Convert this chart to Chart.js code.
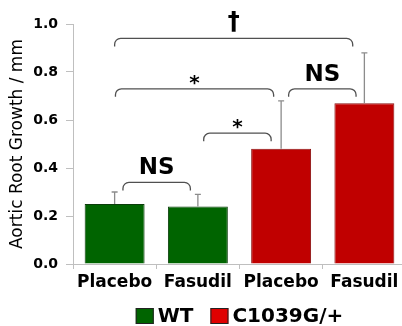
<!DOCTYPE html>
<html lang="en">
<head>
<meta charset="UTF-8">
<title>Aortic Root Growth</title>
<script src="https://cdn.jsdelivr.net/npm/chart.js"></script>
<style>
  html, body { margin: 0; padding: 0; background: #fff; overflow: hidden; }
  #wrap { width: 408px; height: 326px; }
</style>
</head>
<body>
<div id="wrap"><canvas id="growthChart" width="408" height="326"></canvas></div>
<script>
// data
const categories = ['Placebo', 'Fasudil', 'Placebo', 'Fasudil'];
const groups = ['WT', 'WT', 'C1039G/+', 'C1039G/+'];
const growth = [0.25, 0.24, 0.48, 0.67];
const sem = [0.05, 0.05, 0.20, 0.21];
const legendLabels = ['WT', 'C1039G/+'];

// significance brackets: start / end in category units, height in mm
const bracketFrom = [0.1, 1.07, 0.01, 2.09, 0];
const bracketTo = [0.91, 1.88, 1.91, 2.9, 2.86];
const bracketAt = [0.34, 0.545, 0.73, 0.73, 0.94];
const bracketText = ['NS', '*', '*', 'NS', '\u2020'];

const groupFill = { 'WT': '#006400', 'C1039G/+': '#c00000' };
const groupBorder = { 'WT': '#0b3d0b', 'C1039G/+': '#8a1010' };
const legendFill = { 'WT': '#006400', 'C1039G/+': '#e00000' };
const FONT = '"DejaVu Sans", sans-serif';
const axisGray = '#bfbfbf';

const overlay = {
    id: 'overlay',
    afterDatasetsDraw(chart) {
        const { ctx, scales: { x, y } } = chart;
        ctx.save();

        // error bars (upper only)
        ctx.strokeStyle = '#8c8c8c';
        ctx.lineWidth = 1.3;
        growth.forEach((v, i) => {
            const cx = x.getPixelForValue(i);
            const y0 = y.getPixelForValue(v);
            const y1 = y.getPixelForValue(v + sem[i]);
            ctx.beginPath();
            ctx.moveTo(cx, y0);
            ctx.lineTo(cx, y1);
            ctx.moveTo(cx - 3, y1);
            ctx.lineTo(cx + 3, y1);
            ctx.stroke();
        });

        // brackets
        ctx.strokeStyle = '#505050';
        ctx.lineWidth = 1.3;
        ctx.fillStyle = '#000';
        ctx.textAlign = 'center';
        ctx.textBaseline = 'alphabetic';
        bracketAt.forEach((h, i) => {
            const x1 = x.getPixelForValue(bracketFrom[i]);
            const x2 = x.getPixelForValue(bracketTo[i]);
            const by = y.getPixelForValue(h);
            const drop = 8, r = 6;
            ctx.beginPath();
            ctx.moveTo(x1, by + drop);
            ctx.arcTo(x1, by, x1 + r, by, r);
            ctx.lineTo(x2 - r, by);
            ctx.arcTo(x2, by, x2, by + drop, r);
            ctx.lineTo(x2, by + drop);
            ctx.stroke();

            const label = bracketText[i];
            let size = 23, dy = 8;
            if (label === '*') { size = 20; dy = 0; }
            if (label === '\u2020') { size = 24; dy = 9; }
            ctx.font = 'bold ' + size + 'px ' + FONT;
            ctx.fillText(label, (x1 + x2) / 2, by - dy);
        });
        ctx.restore();
    },
    afterDraw(chart) {
        // legend under the axis labels
        const { ctx, chartArea } = chart;
        ctx.save();
        ctx.font = 'bold 20px ' + FONT;
        const boxW = 18, boxH = 16, gap = 4, itemGap = 17;
        const widths = legendLabels.map(t => ctx.measureText(t).width);
        const total = widths.reduce((a, w) => a + boxW + gap + w, 0) + itemGap * (legendLabels.length - 1);
        let cx = (chartArea.left + chartArea.right) / 2 - total / 2;
        const cy = 316;
        legendLabels.forEach((t, i) => {
            ctx.fillStyle = legendFill[t];
            ctx.fillRect(cx, cy - boxH / 2, boxW, boxH);
            ctx.strokeStyle = '#222';
            ctx.lineWidth = 1;
            ctx.strokeRect(cx + 0.5, cy - boxH / 2 + 0.5, boxW - 1, boxH - 1);
            ctx.fillStyle = '#000';
            ctx.textAlign = 'left';
            ctx.textBaseline = 'middle';
            ctx.fillText(t, cx + boxW + gap, cy + 1);
            cx += boxW + gap + widths[i] + itemGap;
        });
        ctx.restore();
    }
};

new Chart(document.getElementById('growthChart'), {
    type: 'bar',
    data: {
        labels: categories,
        datasets: [{
            data: growth,
            backgroundColor: groups.map(g => groupFill[g]),
            borderColor: groups.map(g => groupBorder[g]),
            borderWidth: 1,
            barPercentage: 0.72,
            categoryPercentage: 1.0
        }]
    },
    options: {
        responsive: false,
        animation: false,
        devicePixelRatio: 1,
        layout: { padding: { top: 24, right: 2, bottom: 36, left: 0 } },
        plugins: {
            legend: { display: false },
            tooltip: { enabled: false }
        },
        scales: {
            x: {
                offset: true,
                afterFit: s => { s.height = 26; },
                grid: { display: true, drawOnChartArea: false, offset: true, tickLength: 5, color: axisGray },
                border: { color: axisGray },
                ticks: { color: '#000', padding: 3, font: { family: FONT, size: 17, weight: 'bold' } }
            },
            y: {
                min: 0,
                max: 1.0,
                afterFit: s => { s.width = 73; },
                grid: { drawOnChartArea: false, tickLength: 7, color: axisGray },
                border: { color: axisGray },
                ticks: {
                    stepSize: 0.2,
                    color: '#000',
                    padding: 8,
                    font: { family: FONT, size: 14, weight: 'bold' },
                    callback: v => v.toFixed(1)
                },
                title: {
                    display: true,
                    text: 'Aortic Root Growth / mm',
                    color: '#000',
                    padding: { top: 7, bottom: 0 },
                    font: { family: FONT, size: 17 }
                }
            }
        }
    },
    plugins: [overlay]
});
</script>
</body>
</html>
